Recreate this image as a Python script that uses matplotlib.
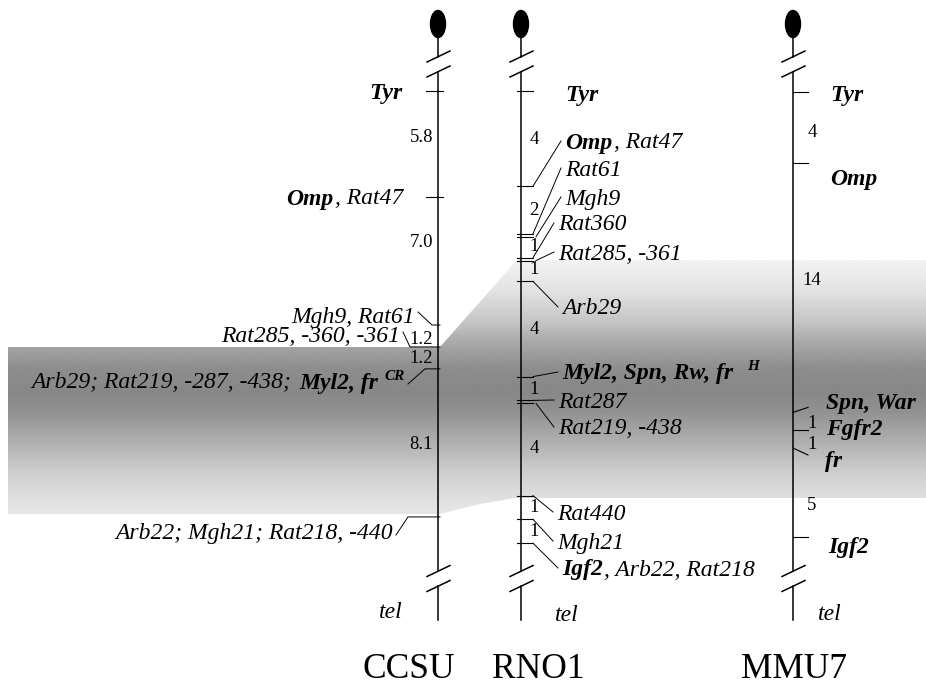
import numpy as np
import matplotlib
matplotlib.use('Agg')
import matplotlib.pyplot as plt
from matplotlib.patches import Ellipse, Polygon

SERIF = 'Liberation Serif'

# --- map data (positions in cM measured from Tyr) ---
# markup: text between *...* is bold
ccsu_markers = ['*Tyr*', '*Omp*, Rat47', 'Mgh9, Rat61', 'Rat285, -360, -361',
                'Arb29; Rat219, -287, -438; *Myl2, fr*', 'Arb22; Mgh21; Rat218, -440']
ccsu_sup = ['', '', '', '', 'CR', '']
ccsu_cm = [0, 5.8, 12.8, 14.0, 15.2, 23.3]

rno1_markers = ['*Tyr*', '*Omp*, Rat47', 'Rat61', 'Mgh9', 'Rat360', 'Rat285, -361', 'Arb29',
                '*Myl2, Spn, Rw, fr*', 'Rat287', 'Rat219, -438', 'Rat440', 'Mgh21',
                '*Igf2*, Arb22, Rat218']
rno1_sup = ['', '', '', '', '', '', '', 'H', '', '', '', '', '']
rno1_cm = [0, 4, 6, 6, 7, 7, 8, 12, 13, 13, 17, 18, 19]

mmu7_markers = ['*Tyr*', '*Omp*', '*Spn, War*', '*Fgfr2*', '*fr*', '*Igf2*']
mmu7_sup = ['', '', '', '', '', '']
mmu7_cm = [0, 4, 18, 19, 20, 25]

chrom_names = ['CCSU', 'RNO1', 'MMU7']

# --- layout (pixels) ---
W, H = 926, 687
LABEL_PT = 17
GAP_PT = 13.5
Y0 = 91

fig = plt.figure(figsize=(W / 100, H / 100), dpi=100)
ax = fig.add_axes([0, 0, 1, 1])
ax.set_axis_off()
renderer = fig.canvas.get_renderer()


def parse(markup):
    parts = markup.split('*')
    return [(p, i % 2 == 1) for i, p in enumerate(parts) if p]


def draw_label(x, y, markup, sup='', ha='left', sup_gap=6):
    """x is left edge (ha='left') or right edge (ha='right'); y is visual centre."""
    base = y + 7.5
    arts, gaps = [], []
    for s, bold in parse(markup):
        t = ax.text(0, base, s, fontsize=LABEL_PT, style='italic',
                    weight='bold' if bold else 'normal', family=SERIF,
                    va='baseline', ha='left', zorder=5)
        arts.append(t)
        gaps.append(1.5)
    if sup:
        t = ax.text(0, base - 9, sup, fontsize=11, style='italic', weight='bold',
                    family=SERIF, va='baseline', ha='left', zorder=5)
        arts.append(t)
        gaps.append(sup_gap)
    widths = [a.get_window_extent(renderer).width for a in arts]
    total = sum(widths) + sum(gaps[1:])
    cx = x if ha == 'left' else x - total
    for i, (a, w) in enumerate(zip(arts, widths)):
        if i > 0:
            cx += gaps[i]
        a.set_x(cx)
        cx += w


def draw_chrom(x):
    ax.add_patch(Ellipse((x, 24), 15, 27, color='black', zorder=4))
    ax.plot([x, x], [37, 56.5], color='black', lw=1.1)
    ax.plot([x, x], [71.5, 571], color='black', lw=1.1)
    ax.plot([x, x], [586, 620], color='black', lw=1.1)
    for yc in (56.5, 71.5, 571, 586):
        ax.plot([x - 11, x + 12], [yc + 5.5, yc - 5.5], color='black', lw=1.1)


def ypos(cm, scale, y0=Y0):
    return [y0 + c * scale for c in cm]


def draw_gaps(x, ys, cm, fmt, nudges, ha):
    uniq_cm = sorted(set(cm))
    uniq_y = sorted(set(ys))
    for i in range(len(uniq_cm) - 1):
        d = uniq_cm[i + 1] - uniq_cm[i]
        ym = (uniq_y[i] + uniq_y[i + 1]) / 2 + nudges[i]
        ax.text(x, ym + 5, format(d, fmt), fontsize=GAP_PT, family=SERIF,
                va='baseline', ha=ha, zorder=5)


# --- shaded conserved segment ---
band = Polygon([(8, 347), (440, 347), (517, 260), (926, 260), (926, 498),
                (515, 498), (480, 504), (440, 514), (8, 514)],
               closed=True, facecolor='none', edgecolor='none')
ax.add_patch(band)
stop_y = [255, 290, 320, 347, 370, 392, 412, 440, 470, 500, 520]
stop_g = [0.96, 0.89, 0.78, 0.64, 0.55, 0.53, 0.57, 0.68, 0.80, 0.88, 0.91]
rows = np.linspace(255, 520, 300)
grad = np.interp(rows, stop_y, stop_g)
img = ax.imshow(grad[:, None], extent=(0, W, 520, 255), aspect='auto', cmap='gray',
                vmin=0, vmax=1, interpolation='bilinear', zorder=0)
img.set_clip_path(band)

# --- CCSU ---
xc = 438
draw_chrom(xc)
yc = ypos(ccsu_cm, 18.28)
c_lab_x = [403, 403, 415, 400, 405, 393]
c_lab_y = [92, 197, 315, 335, 381, 532]
c_knee = [None, None, 432, 410, 425, 408]
for name, sup, y, lx, ly, kn in zip(ccsu_markers, ccsu_sup, yc, c_lab_x, c_lab_y, c_knee):
    if kn is None:
        ax.plot([xc - 12, xc + 5], [y, y], color='black', lw=0.8)
    else:
        ax.plot([xc + 2, kn, lx + 3], [y, y, ly + (3 if ly > y else -3)],
                color='black', lw=0.7)
    draw_label(lx, ly, name, sup, ha='right', sup_gap=7)
draw_gaps(433, yc, ccsu_cm, '.1f', [-7, -19, 3, 0, 1], 'right')

# --- RNO1 ---
xr = 521
draw_chrom(xr)
yr = ypos(rno1_cm, 23.8)
r_lab_x = [565, 565, 565, 565, 558, 558, 562, 562, 558, 558, 557, 557, 562]
r_lab_y = [94, 141, 168, 197, 223, 252, 307, 372, 400, 427, 512, 541, 568]
seen = {}
for i, (name, sup, y, lx, ly) in enumerate(zip(rno1_markers, rno1_sup, yr, r_lab_x, r_lab_y)):
    k = rno1_cm[i]
    off = 3 * seen.get(k, 0)
    seen[k] = seen.get(k, 0) + 1
    ty = y + off
    ax.plot([xr - 4, xr + 12], [ty, ty], color='black', lw=0.8)
    if i > 0:
        ax.plot([xr + 12 + off, lx - 4], [ty, ly], color='black', lw=0.7)
    draw_label(lx, ly, name, sup, ha='left', sup_gap=14)
draw_gaps(534, yr, rno1_cm, 'g', [0] * 9, 'center')

# --- MMU7 ---
xm = 793
draw_chrom(xm)
ym = ypos(mmu7_cm, 17.8, 92)
m_lab_x = [830, 830, 826, 826, 825, 828]
m_lab_y = [94, 177, 401, 428, 459, 545]
m_slant = [0, 0, -5, 0, 7, 0]
for name, sup, y, lx, ly, sl in zip(mmu7_markers, mmu7_sup, ym, m_lab_x, m_lab_y, m_slant):
    ax.plot([xm, xm + 15], [y, y + sl], color='black', lw=0.8)
    draw_label(lx, ly, name, sup, ha='left')
draw_gaps(812, ym, mmu7_cm, 'g', [4, -8, 2, 5, 13], 'center')

# --- telomere labels and chromosome names ---
for tx, ty, tha in [(403, 612, 'right'), (555, 615, 'left'), (818, 614, 'left')]:
    ax.text(tx, ty + 6, 'tel', fontsize=LABEL_PT, style='italic', family=SERIF,
            va='baseline', ha=tha)
for name, nx in zip(chrom_names, [409, 538, 794]):
    ax.text(nx, 678, name, fontsize=25.5, family=SERIF, va='baseline', ha='center')

ax.set_xlim(0, W)
ax.set_ylim(H, 0)
fig.savefig('out.png', dpi=100)
